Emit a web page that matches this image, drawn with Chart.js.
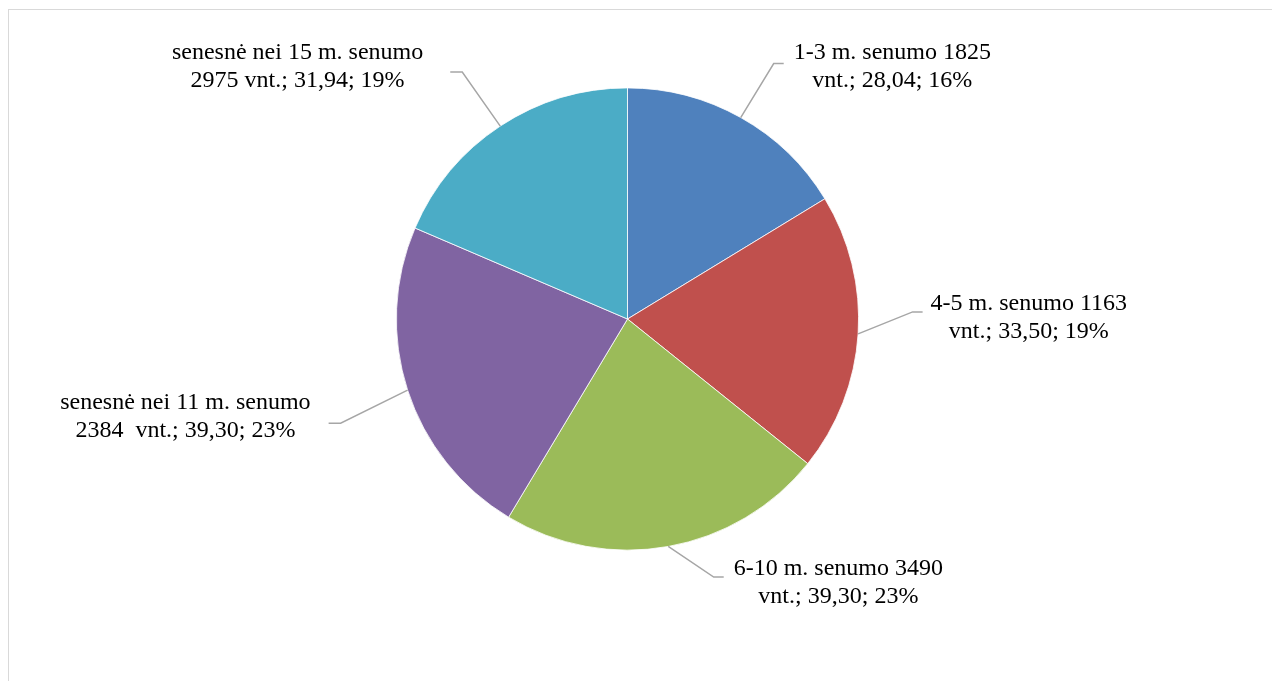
<!DOCTYPE html>
<html>
<head>
<meta charset="utf-8">
<script src="https://cdn.jsdelivr.net/npm/chart.js@4/dist/chart.umd.min.js"></script>
<style>
  html, body { margin: 0; padding: 0; background: #ffffff; overflow: hidden; }
  #wrap { position: relative; width: 1272px; height: 681px; }
  #frame { position: absolute; left: 8px; top: 9px; width: 1400px; height: 800px; border: 1px solid #d9d9d9; box-sizing: border-box; }
  canvas { position: absolute; left: 0; top: 0; }
</style>
</head>
<body>
<div id="wrap">
  <div id="frame"></div>
  <canvas id="c" width="1272" height="681"></canvas>
</div>
<script>
// ---- data ----
const categories = ['1-3 m. senumo', '4-5 m. senumo', '6-10 m. senumo', 'senesnė nei 11 m. senumo', 'senesnė nei 15 m. senumo'];
const counts = [1825, 1163, 3490, 2384, 2975];
const values = [28.04, 33.50, 39.30, 39.30, 31.94];
const countSeparators = [' ', ' ', ' ', '  ', ' '];
const colors = ['#4F81BD', '#C0504D', '#9BBB59', '#8064A2', '#4BACC6'];

// ---- label layout (style only) ----
// elbow offset from slice edge, horizontal tail length, text gap, text vertical shift, text wrap style
const labelLayout = [
  { ex: 33, ey: -54, tail: 10, gap: 10, ty: 3.5, wrapAfterCategory: false },
  { ex: 54.5, ey: -22, tail: 10, gap: 8, ty: 5.5, wrapAfterCategory: false },
  { ex: 45.5, ey: 30.6, tail: 10, gap: 10, ty: 6, wrapAfterCategory: false },
  { ex: -67, ey: 33, tail: 12, gap: 18, ty: -6.5, wrapAfterCategory: true },
  { ex: -38, ey: -54, tail: 12, gap: 27, ty: -5.5, wrapAfterCategory: true }
];

const total = values.reduce((a, b) => a + b, 0);
function fmt(v) { return v.toFixed(2).replace('.', ','); }
function labelLines(i) {
  const pct = Math.round(values[i] / total * 100) + '%';
  const tail = 'vnt.; ' + fmt(values[i]) + '; ' + pct;
  if (labelLayout[i].wrapAfterCategory) {
    return [categories[i], counts[i] + countSeparators[i] + tail];
  }
  return [categories[i] + ' ' + counts[i], tail];
}

const leaderPlugin = {
  id: 'leaders',
  afterDatasetsDraw(chart) {
    const ctx = chart.ctx;
    const meta = chart.getDatasetMeta(0);
    ctx.save();
    meta.data.forEach((arc, i) => {
      const p = arc.getProps(['x', 'y', 'startAngle', 'endAngle', 'outerRadius'], true);
      const mid = (p.startAngle + p.endAngle) / 2;
      const sx = p.x + Math.cos(mid) * p.outerRadius;
      const sy = p.y + Math.sin(mid) * p.outerRadius;
      const L = labelLayout[i];
      const dir = L.ex >= 0 ? 1 : -1;
      const bx = sx + L.ex, by = sy + L.ey;
      const tx = bx + dir * L.tail;
      ctx.strokeStyle = '#A6A6A6';
      ctx.lineWidth = 1.5;
      ctx.beginPath();
      ctx.moveTo(sx, sy);
      ctx.lineTo(bx, by);
      ctx.lineTo(tx, by);
      ctx.stroke();

      const lines = labelLines(i);
      ctx.font = '24px "Liberation Serif", "Times New Roman", serif';
      ctx.fillStyle = '#000000';
      ctx.textAlign = 'center';
      ctx.textBaseline = 'middle';
      const w = Math.max(...lines.map(s => ctx.measureText(s).width));
      const cx = tx + dir * (L.gap + w / 2);
      const cy = by + L.ty;
      const lh = 28;
      lines.forEach((s, k) => {
        ctx.fillText(s, cx, cy + (k - (lines.length - 1) / 2) * lh);
      });
    });
    ctx.restore();
  }
};

new Chart(document.getElementById('c'), {
  type: 'pie',
  data: {
    labels: categories,
    datasets: [{
      data: values,
      backgroundColor: colors,
      borderColor: '#ffffff',
      borderWidth: 0.8,
      hoverOffset: 0
    }]
  },
  options: {
    responsive: false,
    animation: false,
    devicePixelRatio: 1,
    layout: { padding: { left: 0, right: 17, top: 87.5, bottom: 130.5 } },
    plugins: {
      legend: { display: false },
      tooltip: { enabled: false },
      title: { display: false }
    }
  },
  plugins: [leaderPlugin]
});
</script>
</body>
</html>
